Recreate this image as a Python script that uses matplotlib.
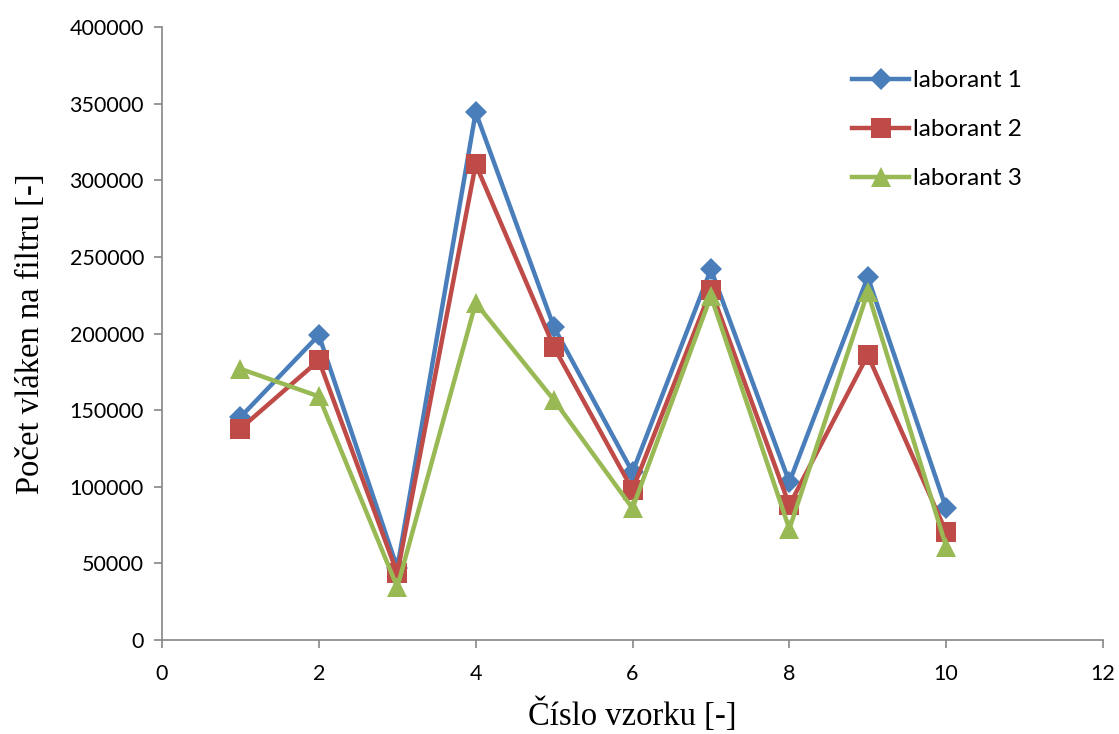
import matplotlib
matplotlib.use("Agg")
import matplotlib.pyplot as plt

# Sample numbers and fibre counts per lab technician
samples = [1, 2, 3, 4, 5, 6, 7, 8, 9, 10]
laborant_1 = [145500, 199000, 47000, 344500, 204000, 109500, 242000, 103000, 237000, 86000]
laborant_2 = [138000, 182500, 43500, 310500, 191000, 98000, 228500, 88000, 186000, 70500]
laborant_3 = [177000, 159000, 34500, 220000, 156500, 86000, 224500, 72500, 227000, 61000]

series = [
    ("laborant 1", laborant_1, "#4A7EBB", "D", 11),
    ("laborant 2", laborant_2, "#BE4B48", "s", 14.5),
    ("laborant 3", laborant_3, "#98B954", "^", 15),
]

fig = plt.figure(figsize=(11.19, 7.34), dpi=100)
ax = fig.add_axes([0.1448, 0.128, 0.8409, 0.835])

for label, values, color, marker, ms in series:
    ax.plot(samples, values, color=color, lw=3.2, marker=marker, ms=ms,
            markeredgewidth=0, label=label, solid_joinstyle="miter")

ax.set_xlim(0, 12)
ax.set_ylim(0, 400000)
xticks = list(range(0, 13, 2))
yticks = list(range(0, 400001, 50000))
ax.set_xticks(xticks)
ax.set_yticks(yticks)

tick_font = dict(family="Lato", size=15.5)
ax.set_xticklabels([str(v) for v in xticks], **tick_font)
ax.set_yticklabels([str(v) for v in yticks], **tick_font)

for side in ("top", "right"):
    ax.spines[side].set_visible(False)
for side in ("left", "bottom"):
    ax.spines[side].set_color("#868686")
    ax.spines[side].set_linewidth(1.2)
ax.tick_params(axis="both", direction="out", length=6, width=1.2,
               color="#868686")
ax.tick_params(axis="y", pad=7)
ax.tick_params(axis="x", pad=11)

ax.set_xlabel("Číslo vzorku [-]", family="Liberation Serif", size=23.5, labelpad=10)
ax.set_ylabel("Počet vláken na filtru [-]", family="Liberation Serif", size=23.5, labelpad=17)

leg = ax.legend(loc="upper left", bbox_to_anchor=(0.7614, 0.904),
                bbox_transform=fig.transFigure, frameon=False,
                borderpad=0, borderaxespad=0,
                prop=dict(family="Lato", size=17.5), handlelength=2.35,
                handletextpad=0.15, labelspacing=1.15)

fig.savefig("out.png", dpi=100)
